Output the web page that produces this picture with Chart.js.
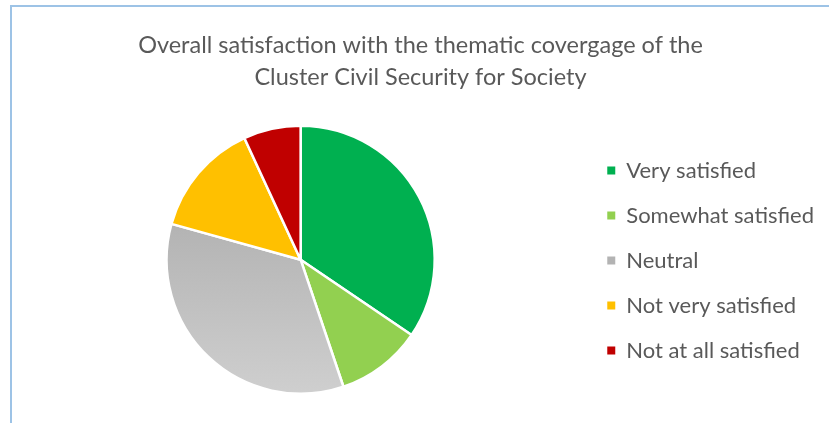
<!DOCTYPE html>
<html>
<head>
<meta charset="utf-8">
<script src="https://cdn.jsdelivr.net/npm/chart.js@4"></script>
<style>
  html, body { margin: 0; padding: 0; background: #fff; }
  .frame {
    position: absolute; left: 10px; top: 5px; width: 830px; height: 430px;
    border-left: 2px solid #9dc3e6; border-top: 2px solid #9dc3e6;
  }
  .wrap { position: absolute; left: 12px; top: 7px; width: 817px; height: 416px; }
</style>
</head>
<body>
<div class="frame"></div>
<div class="wrap"><canvas id="pie"></canvas></div>
<script>
const titleLines = ['Overall satisfaction with the thematic covergage of the', 'Cluster Civil Security for Society']
const categories = ['Very satisfied', 'Somewhat satisfied', 'Neutral', 'Not very satisfied', 'Not at all satisfied']
const responses = [10, 3, 10, 4, 2]
const sliceColors = ['#00b050', '#92d050', null, '#ffc000', '#c00000']

const textGray = '#595959'
const fontFamily = 'Lato, "Open Sans", sans-serif'

// Neutral slice is a vertical grey gradient
function sliceColor(context) {
  const i = context.dataIndex
  if (sliceColors[i]) return sliceColors[i]
  const { ctx, chartArea } = context.chart
  if (!chartArea) return '#b8b8b8'
  const g = ctx.createLinearGradient(0, chartArea.top, 0, chartArea.bottom)
  g.addColorStop(0, '#a3a3a3')
  g.addColorStop(1, '#cfcfcf')
  return g
}

new Chart(document.getElementById('pie'), {
  type: 'pie',
  data: {
    labels: categories,
    datasets: [{
      data: responses,
      backgroundColor: sliceColor,
      borderColor: '#ffffff',
      borderWidth: 2.5,
    }],
  },
  options: {
    responsive: true,
    maintainAspectRatio: false,
    animation: false,
    layout: { padding: { left: 5, right: 5, top: 0, bottom: 28 } },
    plugins: {
      title: {
        display: true,
        text: titleLines,
        color: textGray,
        font: { family: fontFamily, size: 23.5, weight: 'normal', lineHeight: 1.37 },
        padding: { top: 22, bottom: 31 },
      },
      legend: {
        position: 'right',
        // empty title only pushes the legend rows down
        title: { display: true, text: ' ', font: { size: 10, lineHeight: 1 }, padding: { top: 109, bottom: 0 } },
        labels: {
          color: textGray,
          boxWidth: 8,
          boxHeight: 8,
          padding: 23,
          font: { family: fontFamily, size: 22 },
          generateLabels(chart) {
            return categories.map((c, i) => ({
              text: c,
              fillStyle: sliceColors[i] || '#b3b3b3',
              strokeStyle: sliceColors[i] || '#b3b3b3',
              lineWidth: 0,
              fontColor: textGray,
              index: i,
            }))
          },
        },
      },
      tooltip: { enabled: false },
    },
  },
})
</script>
</body>
</html>
